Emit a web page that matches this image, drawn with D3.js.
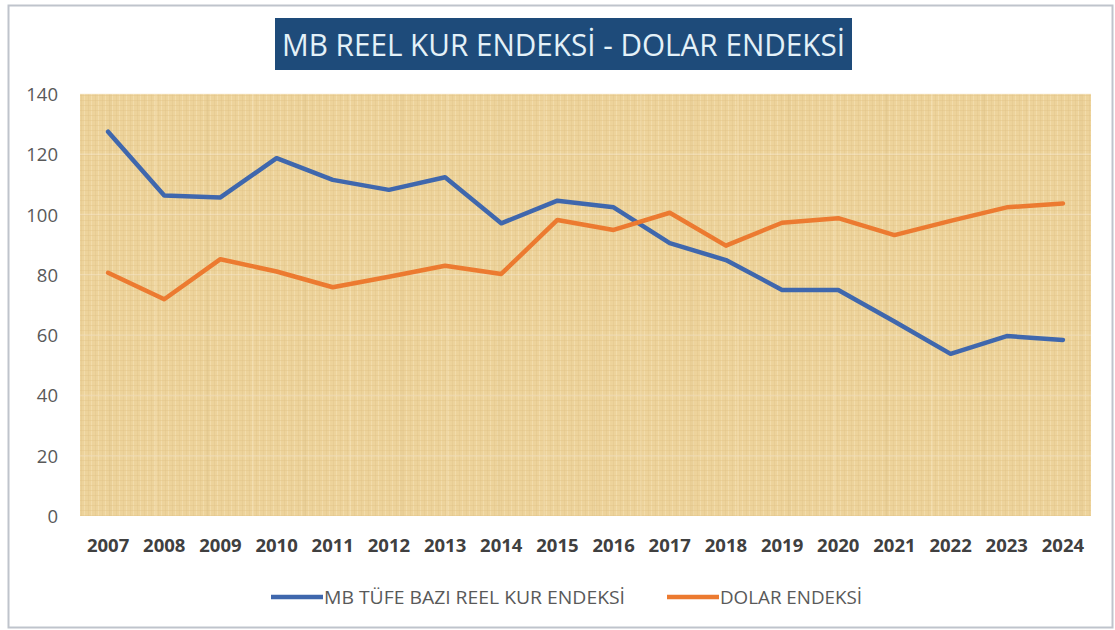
<!DOCTYPE html>
<html><head><meta charset="utf-8">
<script src="https://cdn.jsdelivr.net/npm/d3@7/dist/d3.min.js"></script>
<style>
html,body{margin:0;padding:0;background:#fff;}
svg{display:block;}
</style></head>
<body>
<svg id="chart" width="1115" height="630"></svg>
<script>
const years = ["2007","2008","2009","2010","2011","2012","2013","2014","2015","2016","2017","2018","2019","2020","2021","2022","2023","2024"];
const reelKur = [127.5,106.3,105.7,118.7,111.5,108.2,112.4,97.1,104.6,102.4,90.5,84.9,75.0,75.0,64.5,53.8,59.7,58.4];
const dolarEndeksi = [80.7,71.9,85.2,81.1,75.9,79.4,83.0,80.3,98.2,94.9,100.6,89.7,97.3,98.8,93.2,97.9,102.4,103.7];
const yTicks = [0,20,40,60,80,100,120,140];
const seriesNames = ["MB TÜFE BAZI REEL KUR ENDEKSİ","DOLAR ENDEKSİ"];
const titleText = "MB REEL KUR ENDEKSİ - DOLAR ENDEKSİ";

const svg = d3.select("#chart");
const plot = {x0:80, x1:1091, y0:94, y1:516};
const colors = ["#3f67ad","#ec7a30"];

// outer frame
svg.append("rect").attr("x",8.5).attr("y",5.5).attr("width",1104).attr("height",622)
  .attr("fill","#fff").attr("stroke","#bfc4cc").attr("stroke-width",2);

// texture pattern
const defs = svg.append("defs");
const pat = defs.append("pattern").attr("id","papyrus").attr("patternUnits","userSpaceOnUse")
  .attr("width",7).attr("height",5);
pat.append("rect").attr("width",7).attr("height",5).attr("fill","#edd39b");
pat.append("rect").attr("x",0).attr("y",0).attr("width",1).attr("height",5).attr("fill","#f5e2b6").attr("opacity",0.6);
pat.append("rect").attr("x",0).attr("y",0).attr("width",7).attr("height",1).attr("fill","#e2c488").attr("opacity",0.45);
pat.append("rect").attr("x",4).attr("y",0).attr("width",1).attr("height",5).attr("fill","#dfc184").attr("opacity",0.3);

const pat2 = defs.append("pattern").attr("id","streaks").attr("patternUnits","userSpaceOnUse")
  .attr("width",97).attr("height",61);
pat2.append("rect").attr("x",12).attr("y",0).attr("width",3).attr("height",61).attr("fill","#d4b679").attr("opacity",0.12);
pat2.append("rect").attr("x",58).attr("y",0).attr("width",2).attr("height",61).attr("fill","#f8e8c4").attr("opacity",0.25);

svg.append("rect").attr("x",plot.x0).attr("y",plot.y0).attr("width",plot.x1-plot.x0).attr("height",plot.y1-plot.y0)
  .attr("fill","url(#papyrus)");
svg.append("rect").attr("x",plot.x0).attr("y",plot.y0).attr("width",plot.x1-plot.x0).attr("height",plot.y1-plot.y0)
  .attr("fill","url(#streaks)");

const x = d3.scaleBand().domain(years).range([plot.x0, plot.x1]).paddingInner(0).paddingOuter(0);
const y = d3.scaleLinear().domain([0,140]).range([plot.y1, plot.y0]);

// faint gridlines
svg.append("g").selectAll("line").data(yTicks.filter(d=>d>0)).join("line")
  .attr("x1",plot.x0).attr("x2",plot.x1).attr("y1",d=>y(d)).attr("y2",d=>y(d))
  .attr("stroke","#f8ecd4").attr("stroke-opacity",0.4).attr("stroke-width",1.5);

// y axis
const yAxis = svg.append("g").attr("transform",`translate(${plot.x0-22},0)`)
  .call(d3.axisLeft(y).tickValues(yTicks).tickSize(0).tickPadding(0).tickFormat(d3.format("d")));
yAxis.select(".domain").remove();
yAxis.selectAll("text").attr("font-family","'Open Sans', sans-serif").attr("font-size","18.5px")
  .attr("fill","#595959").attr("dy","0.35em");

// x axis
const xAxis = svg.append("g").attr("transform",`translate(0,${plot.y1})`)
  .call(d3.axisBottom(x).tickSize(0).tickPadding(0));
xAxis.select(".domain").remove();
xAxis.selectAll("text").attr("font-family","'Open Sans', sans-serif").attr("font-size","18.5px")
  .attr("font-weight","bold").attr("fill","#404040").attr("dy","0").attr("y",36);

// lines
const line = d3.line().x((d,i)=>x(years[i])+x.bandwidth()/2).y(d=>y(d));
[reelKur, dolarEndeksi].forEach((s,i)=>{
  svg.append("path").datum(s).attr("d",line).attr("fill","none")
    .attr("stroke",colors[i]).attr("stroke-width",4.5)
    .attr("stroke-linejoin","round").attr("stroke-linecap","round");
});

// title
svg.append("rect").attr("x",275).attr("y",18).attr("width",577).attr("height",52).attr("fill","#1e4b7a");
svg.append("text").attr("x",282).attr("y",56).text(titleText)
  .attr("font-family","'Open Sans', sans-serif").attr("font-size","31px")
  .attr("fill","#e4f1f8").attr("textLength",563).attr("lengthAdjust","spacingAndGlyphs");

// legend
const legend = [
  {x1:271,x2:323,tx:324,tl:301},
  {x1:667,x2:719,tx:720,tl:142}
];
legend.forEach((L,i)=>{
  svg.append("line").attr("x1",L.x1).attr("x2",L.x2).attr("y1",597).attr("y2",597)
    .attr("stroke",colors[i]).attr("stroke-width",4.5);
  svg.append("text").attr("x",L.tx).attr("y",604).text(seriesNames[i])
    .attr("font-family","'Open Sans', sans-serif").attr("font-size","18px")
    .attr("fill","#595959").attr("textLength",L.tl).attr("lengthAdjust","spacingAndGlyphs");
});
</script>
</body></html>
